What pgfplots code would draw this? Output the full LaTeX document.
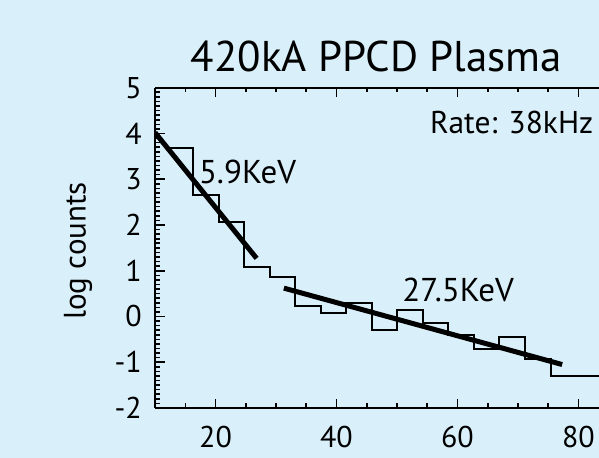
\documentclass[border=0pt]{standalone}
\usepackage{pgfplots}
\pgfplotsset{compat=1.18}
\usepackage{fontspec}
\setmainfont{PT Sans}
\definecolor{bg}{RGB}{217,240,250}
\begin{document}
\begin{tikzpicture}
\useasboundingbox (0bp,0bp) rectangle (599bp,458bp);
\fill[bg] (0bp,0bp) rectangle (599bp,458bp);
\coordinate (O) at (155bp,50bp);
\node[anchor=base, inner sep=0pt, font=\fontsize{43bp}{45bp}\selectfont] at (376.5bp,386.3bp) {420kA PPCD Plasma};
\node[rotate=90, anchor=center, inner sep=0pt, font=\fontsize{31bp}{33bp}\selectfont] at (78bp,207bp) {log counts};
\begin{axis}[
  at={(O)}, anchor=south west,
  scale only axis, width=444bp, height=320.3bp,
  xmin=10, xmax=83.39, ymin=-2, ymax=5,
  axis x line*=box, axis y line*=left,
  xtick={20,40,60,80}, ytick={-2,-1,0,1,2,3,4,5},
  minor x tick num=3, minor y tick num=9,
  axis line style={line width=2bp},
  tick style={black, line width=1.6bp},
  major tick length=9bp, minor tick length=4.5bp,
  tick align=inside,
  /pgf/number format/assume math mode=true,
  tick label style={font=\fontsize{30bp}{32bp}\selectfont, inner sep=0pt},
  yticklabel style={anchor=east, xshift=-13bp},
  xticklabel style={anchor=north, yshift=-18bp},
  clip=true,
]
\addplot[const plot, black, line width=2bp] coordinates {
(12.08,3.68)(16.30,2.66)(20.52,2.06)(24.74,1.09)(28.96,0.87)(33.18,0.23)
(37.40,0.07)(41.62,0.29)(45.84,-0.30)(50.06,0.15)(54.28,-0.14)(58.50,-0.40)
(62.72,-0.70)(66.94,-0.45)(71.16,-0.92)(75.38,-1.31)(79.60,-1.31)(83.82,-1.31)(90,-1.31)};
\addplot[black, line width=5bp] coordinates {(10,4.02)(26.8,1.27)};
\addplot[black, line width=5bp] coordinates {(31.3,0.62)(77.3,-1.05)};
% tick combs (explicit, matching the axis ticks)
\pgfplotsinvokeforeach{-1.9,-1.8,...,4.95}{\draw[black,line width=1.3bp] (axis cs:10,#1) -- ++(4.5bp,0pt);}
\pgfplotsinvokeforeach{-1,0,1,2,3,4}{\draw[black,line width=1.8bp] (axis cs:10,#1) -- ++(10bp,0pt);}
\pgfplotsinvokeforeach{15,25,30,35,45,50,55,65,70,75}{\draw[black,line width=1.5bp] (axis cs:#1,-2) -- ++(0pt,4.5bp); \draw[black,line width=1.5bp] (axis cs:#1,5) -- ++(0pt,-4.5bp);}
\pgfplotsinvokeforeach{20,40,60,80}{\draw[black,line width=1.8bp] (axis cs:#1,-2) -- ++(0pt,9bp); \draw[black,line width=1.8bp] (axis cs:#1,5) -- ++(0pt,-6bp);}
\node[anchor=base west, inner sep=0pt, font=\fontsize{33bp}{35bp}\selectfont] at (axis cs:17.24,2.91) {5.9KeV};
\node[anchor=base west, inner sep=0pt, font=\fontsize{33bp}{35bp}\selectfont] at (axis cs:50.86,0.32) {27.5KeV};
\node[anchor=base east, inner sep=0pt, font=\fontsize{31.5bp}{33bp}\selectfont] at (axis cs:82.48,4.0) {Rate: 38kHz};
\end{axis}
\end{tikzpicture}
\end{document}
